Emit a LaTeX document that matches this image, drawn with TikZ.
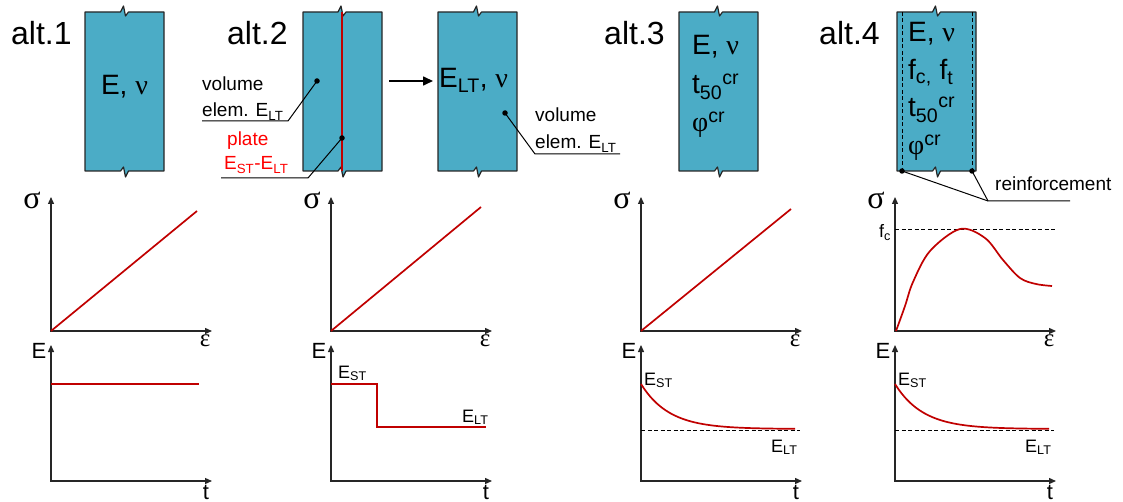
\documentclass[tikz,border=0pt]{standalone}
\usepackage{fontspec}
\setmainfont{Liberation Sans}
\newfontfamily\grk{Liberation Serif}
\usepackage{tikz}
\usetikzlibrary{arrows.meta}
\definecolor{colfill}{HTML}{4BACC6}
\definecolor{curvered}{HTML}{C00000}
\tikzset{
  member/.style={draw=black!85, fill=colfill, line width=1.2pt, line join=round},
  axis/.style={{Triangle[length=7pt, width=6pt]}-{Triangle[length=7pt, width=6pt]}, line width=1.3pt, black!85},
  curve/.style={curvered, line width=1.7pt},
  lead/.style={black, line width=1pt},
  ref/.style={line width=0.9pt, dash pattern=on 4pt off 2.5pt},
  dot/.style={circle, fill=black, inner sep=0pt, minimum size=5.5pt},
  alt/.style={font=\fontsize{32}{32}\selectfont, anchor=base west, inner sep=0pt},
  prop/.style={font=\fontsize{28}{28}\selectfont, anchor=base west, inner sep=0pt},
  note/.style={font=\fontsize{19}{19}\selectfont, anchor=base west, inner sep=0pt},
  axlbl/.style={font=\fontsize{22}{22}\selectfont, inner sep=0pt},
  val/.style={font=\fontsize{18}{18}\selectfont, anchor=base west, inner sep=0pt},
}
% column with break marks: left x, break x
\newcommand{\drawmember}[2]{%
  \draw[member] (#1,12) -- (#2-4,12) -- (#2-1,6) -- (#2+1,16) -- (#2+4,12) -- (#1+79,12)
    -- (#1+79,171) -- (#2+4,171) -- (#2+1,177) -- (#2-1,167) -- (#2-4,171) -- (#1,171) -- cycle;}

\begin{document}
\begin{tikzpicture}[x=1pt, y=-1pt]
\useasboundingbox (0,0) rectangle (1123,502);

% columns
\drawmember{85}{124.5}
\drawmember{303}{342}
\drawmember{438}{477.5}
\drawmember{679}{718.5}
\drawmember{897}{936.5}
\draw[curvered, line width=2pt] (342,12) -- (342,171);
\draw[ref] (902,12) -- (902,171);
\draw[ref] (972,12) -- (972,171);

\node[alt] (alt1) at (11,45) {alt.1};
\node[alt] (alt2) at (227,45) {alt.2};
\node[alt] (alt3) at (604,45) {alt.3};
\node[alt] (alt4) at (819,45) {alt.4};

\node[prop, anchor=base] (p1) at (124.5,95) {E, {\grk ν}};
\node[prop] (p3) at (439,88) {E\textsubscript{LT}, {\grk ν}};
\node[prop] (p4a) at (692,55) {E, {\grk ν}};
\node[prop] (p4b) at (692,94) {t\textsubscript{50}\textsuperscript{cr}};
\node[prop] (p4c) at (692,132) {{\grk φ}\textsuperscript{cr}};
\node[prop] (p5a) at (908,42) {E, {\grk ν}};
\node[prop] (p5b) at (908,80) {f\textsubscript{c,} f\textsubscript{t}};
\node[prop] (p5c) at (908,117) {t\textsubscript{50}\textsuperscript{cr}};
\node[prop] (p5d) at (908,155) {{\grk φ}\textsuperscript{cr}};

% leaders
\node[note] (vol2a) at (202,91) {volume};
\node[note] (vol2b) at (202,117) {elem. E\textsubscript{LT}};
\node[dot] (d2) at (317,81) {};
\coordinate (u2a) at (202,121);
\coordinate (u2b) at (288,121);
\draw[lead] (u2a) -- (u2b) -- (d2.center);

\node[note, red] (pl1) at (227,146) {plate};
\node[note, red] (pl2) at (224,170) {E\textsubscript{ST}-E\textsubscript{LT}};
\node[dot] (dp) at (342,138) {};
\coordinate (upa) at (221,178);
\coordinate (upb) at (308,178);
\draw[lead] (upa) -- (upb) -- (dp.center);

\node[note] (vol3a) at (535,122) {volume};
\node[note] (vol3b) at (535,149) {elem. E\textsubscript{LT}};
\node[dot] (d3) at (505,113) {};
\coordinate (u3a) at (620,154);
\coordinate (u3b) at (535,154);
\draw[lead] (u3a) -- (u3b) -- (d3.center);

\node[note] (reinf) at (995,191) {reinforcement};
\node[dot] (r1) at (902,171) {};
\node[dot] (r2) at (972,171) {};
\coordinate (rj) at (988,201);
\coordinate (rend) at (1070,201);
\draw[lead] (r1.center) -- (rj) -- (rend);
\draw[lead] (r2.center) -- (rj);

\coordinate (ar0) at (389,81);
\coordinate (ar1) at (433,81);
\draw[-{Triangle[length=10pt, width=9pt]}, line width=1.6pt] (ar0) -- (ar1);

% axes
\foreach \a/\n in {51/1, 331/2, 641/3, 895/4} {
  \draw[axis] (\a,197) -- (\a,331) -- (\a+161,331);
  \draw[axis] (\a,345) -- (\a,481) -- (\a+161,481);
  \node[axlbl, font=\fontsize{32}{32}\grk] (sig\n) at (\a-19,200) {σ};
  \node[axlbl, font=\fontsize{25}{25}\grk] (eps\n) at (\a+154,341) {ε};
  \node[axlbl] (E\n) at (\a-12,351) {E};
  \node[axlbl] (t\n) at (\a+155,492) {t};
}

% curves
\draw[curve] (51,331) -- (197,211);
\draw[curve] (331,331) -- (481,207);
\draw[curve] (641,331) -- (791,209);
\draw[ref] (895,229) -- (1057,229);
\node[val] (fc) at (879,238) {f\textsubscript{c}};
\draw[curve] plot[smooth, tension=0.55] coordinates {(896,331) (905,306) (913,282) (930,251) (960,229) (985,238) (1003,260) (1020,278) (1036,284) (1052,286)};

\draw[curve] (51,384) -- (199,384);
\draw[curve] (331,384) -- (377,384) -- (377,427) -- (486,427);
\node[val] (est2) at (338,378) {E\textsubscript{ST}};
\node[val] (elt2) at (462,422) {E\textsubscript{LT}};

\foreach \a/\n in {641/3, 895/4} {
  \draw[ref] (\a,430) -- (\a+159,430);
  \draw[curve] plot[domain=0:154, samples=50, variable=\s] ({\a+\s},{429-45*exp(-\s/28)});
  \node[val] (est\n) at (\a+3,385) {E\textsubscript{ST}};
  \node[val] (elt\n) at (\a+130,452) {E\textsubscript{LT}};
}
\end{tikzpicture}
\end{document}
